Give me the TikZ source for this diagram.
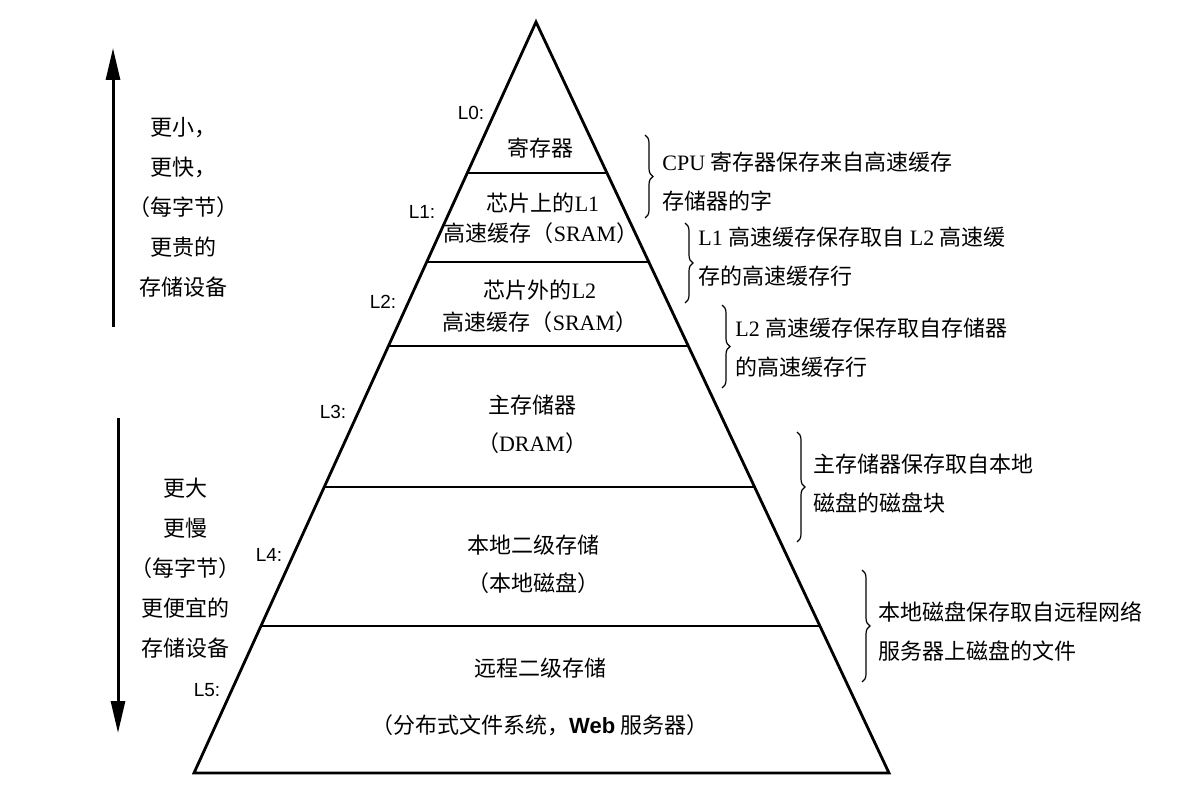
\documentclass[tikz,border=0pt]{standalone}
\usepackage{fontspec}
\setmainfont{Liberation Serif}
\newfontfamily\cjk{Noto Sans CJK SC}
\newfontfamily\lsans{Liberation Sans}
\usetikzlibrary{arrows.meta,calc,decorations.pathreplacing}
\newcommand{\zh}[1]{{\cjk #1}}

\begin{document}
\begin{tikzpicture}[x=0.5pt,y=-0.5pt,
  tier/.style={inner sep=0pt,font=\fontsize{11}{13}\selectfont},
  lvl/.style={inner sep=0pt,font=\lsans\fontsize{9.5}{11}\selectfont},
  note/.style={inner sep=0pt,anchor=west,align=left,font=\fontsize{11}{19.5}\selectfont},
  side/.style={inner sep=0pt,align=center,font=\fontsize{11}{20}\selectfont},
  ybrace/.style={decorate,decoration={brace,amplitude=4pt},line width=0.6pt},
  bigarrow/.style={line width=1.5pt,-{Triangle[length=16pt,width=7pt]}}]
\useasboundingbox (0,0) rectangle (1198,806);
%% the pyramid
\path (536,22) coordinate (apex);
\path (194,773) coordinate (bl);
\path (889,773) coordinate (br);
\draw[line width=1.4pt] (apex) -- (bl) -- (br) -- cycle;
\foreach \y in {173,262,346,487,626}
  \draw[line width=1.4pt] ($(apex)!{(\y-22)/751}!(bl)$) -- ($(apex)!{(\y-22)/751}!(br)$);
%% the two arrows on the left
\path (113,327) coordinate (upFoot) (113,48) coordinate (upTip);
\draw[bigarrow] (upFoot) -- (upTip);
\path (118,418) coordinate (downFoot) (118,733) coordinate (downTip);
\draw[bigarrow] (downFoot) -- (downTip);
\node[side] (upText) at (183,207) {\zh{更小，}\\\zh{更快，}\\\zh{（每字节）}\\\zh{更贵的}\\\zh{存储设备}};
\node[side] (downText) at (185,568) {\zh{更大}\\\zh{更慢}\\\zh{（每字节）}\\\zh{更便宜的}\\\zh{存储设备}};
%% level names
\path (471,113) node[lvl] (L0) {L0:}
  (422,212) node[lvl] (L1) {L1:}
  (383,302) node[lvl] (L2) {L2:}
  (333,412) node[lvl] (L3) {L3:}
  (269,555) node[lvl] (L4) {L4:}
  (207,690) node[lvl] (L5) {L5:};
%% text in the tiers
\path (540,148) node[tier] (regs) {\zh{寄存器}}
  (543,203) node[tier] (onchipA) {\zh{芯片上的}L1}
  (541,233) node[tier] (onchipB) {\zh{高速缓存（}SRAM\zh{）}}
  (540,290) node[tier] (offchipA) {\zh{芯片外的}L2}
  (540,322) node[tier] (offchipB) {\zh{高速缓存（}SRAM\zh{）}}
  (532,405) node[tier] (mainA) {\zh{主存储器}}
  (532,443) node[tier] (mainB) {\zh{（}DRAM\zh{）}}
  (533,545) node[tier] (localA) {\zh{本地二级存储}}
  (533,583) node[tier] (localB) {\zh{（本地磁盘）}}
  (540,668) node[tier] (remoteA) {\zh{远程二级存储}}
  (540,725) node[tier] (remoteB) {\zh{（分布式文件系统，}{\lsans\bfseries Web} \zh{服务器）}};
%% braces and notes on the right
\draw[ybrace] (645,135) -- (645,218);
\draw[ybrace] (685,223) -- (685,303);
\draw[ybrace] (722,305) -- (722,388);
\draw[ybrace] (797,432) -- (797,542);
\draw[ybrace] (862,570) -- (862,682);
\node[note] (noteA) at (662,182) {CPU \zh{寄存器保存来自高速缓存}\\\zh{存储器的字}};
\node[note] (noteB) at (698,257) {L1 \zh{高速缓存保存取自} L2 \zh{高速缓}\\\zh{存的高速缓存行}};
\node[note] (noteC) at (735,348) {L2 \zh{高速缓存保存取自存储器}\\\zh{的高速缓存行}};
\node[note] (noteD) at (813,484) {\zh{主存储器保存取自本地}\\\zh{磁盘的磁盘块}};
\node[note] (noteE) at (878,632) {\zh{本地磁盘保存取自远程网络}\\\zh{服务器上磁盘的文件}};
\end{tikzpicture}
\end{document}
